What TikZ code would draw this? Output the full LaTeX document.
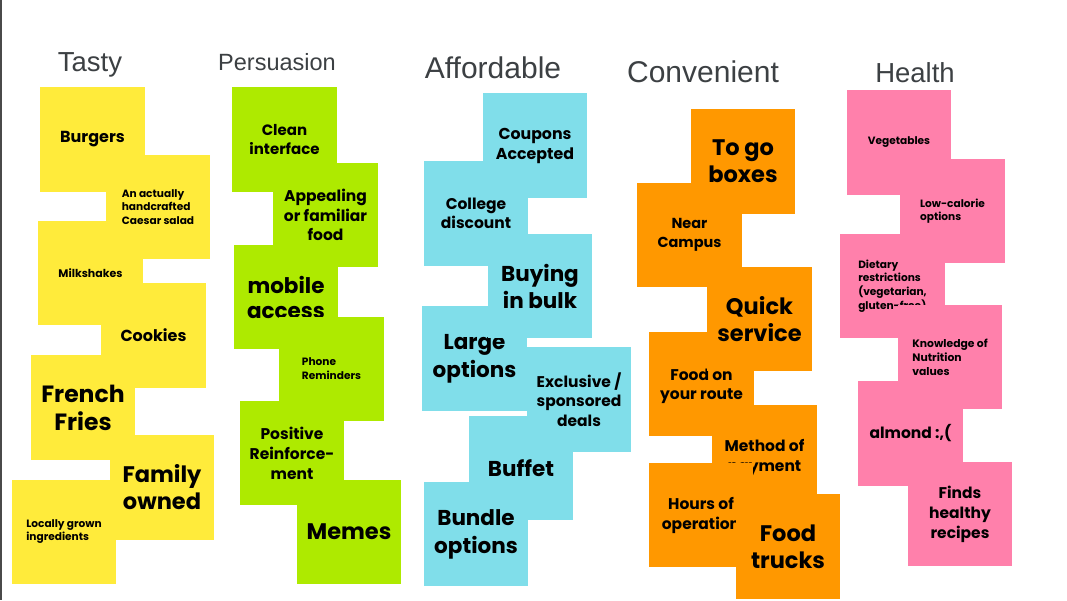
\documentclass[tikz,border=0pt]{standalone}
\usepackage{fontspec}
\setmainfont{Liberation Sans}
\newfontfamily\nf{Poppins}
\definecolor{cy}{HTML}{FFEB3B}
\definecolor{cg}{HTML}{AEEA00}
\definecolor{cb}{HTML}{80DEEA}
\definecolor{co}{HTML}{FF9800}
\definecolor{cp}{HTML}{FF80AB}
\definecolor{tgray}{HTML}{3C4043}
\definecolor{edge}{HTML}{4A4A4A}
\tikzset{
  note/.style={minimum width=104.5pt, minimum height=104.5pt, inner sep=0pt, align=center, text=black},
  lnote/.style={note, align=left},
  f/.style 2 args={font={\nf\bfseries\fontsize{#1}{#2}\selectfont}},
  title/.style={text=tgray, inner sep=0pt, font={\fontsize{#1}{#1}\selectfont}}
}
\begin{document}
\begin{tikzpicture}[x=1pt,y=-1pt]
\useasboundingbox (0,0) rectangle (1067,600);
\fill[white] (0,0) rectangle (1067,600);
\draw[edge, line width=1.5pt] (0.75,0) -- (0.75,600);

% titles
\node[title=27.5] (tTasty) at (90,65) {Tasty};
\node[title=23.5] (tPers) at (277,62) {Persuasion};
\node[title=30] (tAff) at (493,68) {Affordable};
\node[title=30] (tConv) at (703,72) {Convenient};
\node[title=27.5] (tHealth) at (915,73) {Health};

% Tasty
\node[note, fill=cy, f={16}{19}] (burgers) at (92.5,139.5) {Burgers};
\node[note, fill=cy, f={11}{13}] (milk) at (90.5,273) {Milkshakes};
\node[lnote, fill=cy, f={10.6}{13.5}] (caesar) at (158,207) {An actually\\handcrafted\\Caesar salad};
\node[note, fill=cy, f={16}{19}] (cookies) at (153.5,335.5) {Cookies};
\node[note, fill=cy, f={23.5}{28}] (fries) at (83,407.5) {French\\Fries};
\node[note, fill=cy, f={22.5}{27}] (family) at (162,487.5) {Family\\owned};
\node[lnote, fill=cy, f={10.6}{13}] (local) at (64,532) {Locally grown\\ingredients};

% Persuasion
\node[note, fill=cg, f={15}{18.5}] (clean) at (284.5,139.5) {Clean\\interface};
\node[note, fill=cg, f={15.5}{19.5}] (appeal) at (325.5,215) {Appealing\\or familiar\\food};
\node[note, fill=cg, f={21.5}{25}] (mobile) at (286,297) {mobile\\access};
\node[lnote, fill=cg, f={10.6}{14}] (phone) at (331.5,369) {Phone\\Reminders};
\node[note, fill=cg, f={15.5}{20}] (positive) at (292,453) {Positive\\Reinforce-\\ment};
\node[note, fill=cg, f={22.5}{27}] (memes) at (349,532) {Memes};

% Affordable
\node[note, fill=cb, f={15.8}{20}] (coupons) at (535,145.5) {Coupons\\Accepted};
\node[note, fill=cb, f={15.5}{19}] (college) at (476,213.5) {College\\discount};
\node[note, fill=cb, f={21.5}{28}] (large) at (474.5,358.5) {Large\\options};
\node[note, fill=cb, f={21.5}{27}] (bulk) at (540,286) {Buying\\in bulk};
\node[note, fill=cb, f={21.5}{27}] (buffet) at (521,468) {Buffet};
\node[note, fill=cb, f={15.5}{19.5}] (excl) at (579,399.5) {Exclusive /\\sponsored\\deals};
\node[note, fill=cb, f={21.5}{28}] (bundle) at (476,534) {Bundle\\options};

% Convenient
\node[note, fill=co, f={22.5}{27}] (togo) at (743,161.5) {To go\\boxes};
\node[note, fill=co, f={14.5}{19}] (near) at (689.5,235) {Near\\Campus};
\node[note, fill=co] (route) at (701.5,384) {};
\node[inner sep=0pt, align=center, f={15.5}{19}] (routet) at ([yshift=-2.5pt]route.center) {Food on\\your route};
\node[note, fill=co, f={22.5}{27}] (quick) at (759.5,319) {Quick\\service};
\node[note, fill=co, f={15.5}{20}] (method) at (764.5,457.5) {Method of\\payment};
\node[note, fill=co, f={15.5}{20}] (hours) at (701,515) {Hours of\\operation};
\node[note, fill=co, f={22.5}{27}] (trucks) at (788,546.5) {Food\\trucks};

% Health
\node[note, fill=cp, f={10.6}{13}] (veg) at (899,142.5) {Vegetables};
\node[lnote, fill=cp, f={10.6}{13.5}] (lowcal) at (952.5,211) {Low-calorie\\options};
\node[lnote, fill=cp, f={10.6}{13.8}] (diet) at (892.5,286) {Dietary\\restrictions\\(vegetarian,\\gluten-free)};
\node[lnote, fill=cp, f={10.8}{14}] (know) at (950,357) {Knowledge of\\Nutrition\\values};
\node[note, fill=cp, f={15.5}{19}] (almond) at (910.5,433.5) {almond :,(};
\node[note, fill=cp, f={15.5}{20}] (finds) at (960,514) {Finds\\healthy\\recipes};
\end{tikzpicture}
\end{document}
